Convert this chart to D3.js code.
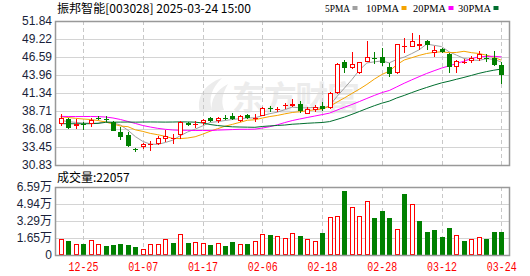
<!DOCTYPE html>
<html><head><meta charset="utf-8">
<script src="https://cdn.jsdelivr.net/npm/d3@7/dist/d3.min.js"></script>
<style>body{margin:0;background:#fff;} svg{display:block;}</style>
</head><body><svg id="c" width="530" height="276"></svg>
<script>
const dates = ["12-20","12-23","12-24","12-25","12-26","12-27","12-30","12-31","01-02","01-03",
"01-06","01-07","01-08","01-09","01-10","01-13","01-14","01-15","01-16","01-17",
"01-20","01-21","01-22","01-23","01-24","01-27","02-05","02-06","02-07","02-10",
"02-11","02-12","02-13","02-14","02-17","02-18","02-19","02-20","02-21","02-24",
"02-25","02-26","02-27","02-28","03-03","03-04","03-05","03-06","03-07","03-10",
"03-11","03-12","03-13","03-14","03-17","03-18","03-19","03-20","03-21","03-24"];
const open = [36.77,37.54,36.52,36.77,36.86,37.76,37.58,37.15,35.65,35.21,33.12,33.41,33.80,33.89,34.58,34.63,35.21,36.96,36.62,36.91,
37.69,37.20,37.64,37.98,37.25,38.13,37.66,38.05,39.10,38.93,39.44,39.51,39.73,38.34,38.85,39.44,39.15,41.38,45.90,45.03,
44.25,45.90,46.51,46.59,45.13,44.21,48.12,48.09,48.19,48.85,47.17,47.75,47.02,45.06,45.86,45.96,46.25,46.51,46.47,45.42];
const high = [38.23,37.69,37.50,37.15,37.73,38.02,38.02,37.25,36.33,35.60,33.35,34.08,34.33,35.06,35.94,35.31,37.25,37.15,37.25,37.59,
37.88,37.79,38.13,38.46,38.13,38.23,38.23,39.29,39.44,39.36,39.83,40.46,40.24,39.29,39.58,40.02,41.52,45.67,46.15,47.36,
45.90,48.99,47.32,47.86,45.71,48.48,49.32,50.16,49.80,49.07,48.26,47.86,47.24,46.22,46.25,46.73,47.42,47.05,47.49,45.79];
const low = [36.59,36.01,36.04,35.94,36.42,37.40,37.15,35.72,34.48,33.50,32.68,33.16,32.92,33.75,34.23,33.89,34.67,36.52,36.18,36.67,
37.15,36.91,37.40,37.40,37.15,37.59,37.15,37.98,38.61,38.63,39.07,39.31,38.37,38.20,38.61,38.64,38.96,41.19,44.32,44.84,
44.10,45.90,45.54,45.27,43.74,44.10,47.17,48.09,47.61,47.54,46.66,47.17,44.32,44.32,45.57,45.64,46.00,45.79,45.27,42.65];
const close = [37.64,36.18,36.81,36.62,37.40,37.69,37.40,35.83,34.96,33.65,33.02,33.87,33.92,34.73,35.02,34.73,37.10,36.67,36.77,37.40,
37.25,37.64,37.54,37.50,38.02,37.73,37.76,39.15,38.96,39.07,39.54,39.66,38.64,38.96,39.34,38.96,41.38,45.57,45.03,45.57,
45.86,46.59,46.37,45.64,44.18,48.44,48.22,48.92,48.44,48.34,47.54,47.32,45.13,45.96,45.93,46.44,46.98,46.40,45.49,43.96];
const volume = [15500,13600,10500,10500,14500,10400,8700,9700,10400,9700,7800,5500,11000,10400,15200,11600,20000,11600,12300,11600,
9700,11300,8700,12600,10400,10700,13300,20300,19400,18400,16200,21000,18400,15200,13600,21300,36500,37500,62000,46200,
37500,52000,35800,42600,35800,24900,59100,49400,32900,22300,24200,17000,26200,19100,13600,15200,17300,15500,22300,22057];
const ma5 = [37.35,37.15,37.05,36.95,36.93,36.94,37.18,36.99,36.66,35.91,34.97,34.27,33.88,33.84,34.11,34.45,35.10,35.65,36.06,36.53,
37.04,37.15,37.32,37.47,37.59,37.69,37.71,38.03,38.32,38.53,38.90,39.28,39.17,39.17,39.23,39.11,39.46,40.84,42.06,43.30,
44.68,45.72,45.88,46.01,45.73,46.24,46.57,47.08,47.64,48.47,48.29,48.11,47.35,46.86,46.38,46.16,46.09,46.34,46.25,45.85];
const ma10 = [37.87,37.76,37.64,37.54,37.47,37.32,37.10,36.81,36.52,36.42,35.96,35.73,35.44,35.25,35.01,34.71,34.68,34.77,34.95,35.32,
35.75,36.12,36.49,36.76,37.06,37.36,37.43,37.68,37.90,38.06,38.29,38.49,38.60,38.75,38.88,39.00,39.37,40.01,40.62,41.27,
41.90,42.59,43.36,44.03,44.52,45.46,46.15,46.48,46.82,47.10,47.27,47.34,47.22,47.25,47.42,47.22,47.10,46.85,46.55,46.12];
const ma20 = [37.92,37.91,37.90,37.90,37.91,37.89,37.83,37.69,37.47,37.18,36.89,36.59,36.37,36.18,36.04,35.94,35.89,35.89,35.86,35.87,
35.85,35.92,35.96,36.00,36.04,36.04,36.06,36.22,36.42,36.69,37.02,37.31,37.54,37.76,37.97,38.18,38.40,38.84,39.26,39.66,
40.09,40.54,40.98,41.39,41.70,42.23,42.76,43.25,43.72,44.18,44.58,44.97,45.29,45.64,45.97,46.34,46.62,46.67,46.69,46.61];
const ma30 = [36.86,36.85,36.85,36.84,36.86,36.90,37.05,37.08,37.09,37.10,37.08,37.10,37.11,37.10,37.09,37.10,37.12,37.11,37.08,36.96,
36.74,36.59,36.48,36.40,36.37,36.35,36.33,36.45,36.53,36.60,36.66,36.78,36.84,36.92,36.98,37.03,37.16,37.48,37.82,38.22,
38.64,39.07,39.48,39.85,40.15,40.61,40.98,41.39,41.78,42.14,42.49,42.81,43.06,43.34,43.61,43.90,44.20,44.45,44.66,44.83];
const priceTicks = ["51.84","49.22","46.59","43.96","41.34","38.71","36.08","33.45","30.83"];
const volTicks = ["6.59万","4.94万","3.29万","1.65万","0"];
const volTickValues = [65900,49400,32900,16500,0];
const dateTicks = ["12-25","01-07","01-17","02-06","02-18","02-28","03-12","03-24"];
const maNames = ["5PMA","10PMA","20PMA","30PMA"];
const title = "振邦智能[003028] 2025-03-24 15:00";
const volLabel = "成交量:22057";

const RED="#ff0000", GREEN="#008000", GRID="#d4d4d4", BORDER="#999999";
const maColors = ["#a0a0a0","#f5a300","#ff00ff","#006e2e"];
const L=55, R=509, T=21, B=165, VT=187, VB=255;
const svg = d3.select("#c");
const x = d3.scalePoint().domain(dates).range([60.7, 501.3]);
const y = d3.scaleLinear().domain([+priceTicks[8], +priceTicks[0]]).range([B, T]);
const yv = d3.scaleLinear().domain([0, volTickValues[0]]).range([VB, VT]);
const px = d => Math.round(x(d));

// watermark
const wm = svg.append("g").attr("fill","#ececec");
wm.append("path").attr("d","M200,112 C196,98 204,84 222,78 C212,88 208,98 212,110 Z");
wm.append("path").attr("d","M212,112 C210,100 216,90 228,84 C222,94 221,102 224,110 Z");
wm.append("text").attr("x",232).attr("y",110).attr("font-family","Noto Sans CJK SC")
  .attr("font-size",33).attr("font-weight","bold").attr("textLength",128).text("东方财富");

// main grid
const g = svg.append("g");
g.selectAll(".hg").data(priceTicks.slice(1,-1)).join("line")
  .attr("x1",L).attr("x2",R).attr("y1",d=>Math.round(y(+d))+0.5).attr("y2",d=>Math.round(y(+d))+0.5)
  .attr("stroke",GRID);
g.selectAll(".hv").data(volTickValues.slice(1,-1)).join("line")
  .attr("x1",L).attr("x2",R).attr("y1",d=>Math.round(yv(d))+0.5).attr("y2",d=>Math.round(yv(d))+0.5)
  .attr("stroke",GRID);
[[T,B],[VT,VB]].forEach(([a,b])=>{
  g.append("g").selectAll("line").data(dateTicks).join("line")
   .attr("x1",d=>px(d)+0.5).attr("x2",d=>px(d)+0.5).attr("y1",a).attr("y2",b)
   .attr("stroke","#c8c8c8").attr("stroke-dasharray","4,3");
});

// MA lines
[ma5,ma10,ma20,ma30].forEach((arr,k)=>{
  const line = d3.line().x((d,i)=>x(dates[i])).y(d=>y(d));
  svg.append("path").attr("d",line(arr)).attr("fill","none")
    .attr("stroke",maColors[k]).attr("stroke-width",1);
});

// candles
const cg = svg.append("g");
dates.forEach((d,i)=>{
  const cx = px(d), up = close[i] >= open[i];
  const col = up ? RED : GREEN;
  const yt = Math.round(y(Math.max(open[i],close[i]))), yb = Math.round(y(Math.min(open[i],close[i])));
  const yh = Math.round(y(high[i])), yl = Math.round(y(low[i]));
  if (up) {
    if (yh < yt) cg.append("line").attr("x1",cx+0.5).attr("x2",cx+0.5).attr("y1",yh).attr("y2",yt).attr("stroke",col);
    if (yl > yb) cg.append("line").attr("x1",cx+0.5).attr("x2",cx+0.5).attr("y1",yb).attr("y2",yl).attr("stroke",col);
    if (yb - yt < 2) {
      cg.append("line").attr("x1",cx-2).attr("x2",cx+3).attr("y1",yt+0.5).attr("y2",yt+0.5).attr("stroke",col);
    } else {
      cg.append("rect").attr("x",cx-1.5).attr("y",yt+0.5).attr("width",4).attr("height",yb-yt-1)
        .attr("fill","#fff").attr("stroke",col);
    }
  } else {
    cg.append("line").attr("x1",cx+0.5).attr("x2",cx+0.5).attr("y1",yh).attr("y2",yl).attr("stroke",col);
    cg.append("rect").attr("x",cx-2).attr("y",yt).attr("width",5).attr("height",Math.max(1,yb-yt)).attr("fill",col);
  }
});

// volume bars (colour by close vs previous close)
const vg = svg.append("g");
dates.forEach((d,i)=>{
  const cx = px(d);
  const up = i === 0 ? close[i] >= open[i] : close[i] >= close[i-1];
  const top = Math.round(yv(volume[i]));
  if (up) {
    vg.append("rect").attr("x",cx-1.5).attr("y",top+0.5).attr("width",4).attr("height",VB-top-1)
      .attr("fill","#fff").attr("stroke",RED);
  } else {
    vg.append("rect").attr("x",cx-2).attr("y",top).attr("width",5).attr("height",VB-top).attr("fill",GREEN);
  }
});

// borders
svg.append("rect").attr("x",L+0.5).attr("y",T+0.5).attr("width",R-L).attr("height",B-T)
  .attr("fill","none").attr("stroke",BORDER).attr("stroke-width",1.5);
svg.append("rect").attr("x",L+0.5).attr("y",VT+0.5).attr("width",R-L).attr("height",VB-VT)
  .attr("fill","none").attr("stroke",BORDER).attr("stroke-width",1.5);

// axes
const fontNum = "Liberation Sans, Arial, sans-serif";
const ay = svg.append("g").attr("transform",`translate(${L-3},0)`)
  .call(d3.axisLeft(y).tickValues(priceTicks.map(Number)).tickFormat((d,i)=>priceTicks[i]).tickSize(0));
ay.select(".domain").remove();
ay.selectAll("text").attr("font-family",fontNum).attr("font-size",12).attr("fill","#1a1f3a").attr("x",0);
const av = svg.append("g").attr("transform",`translate(${L-3},0)`)
  .call(d3.axisLeft(yv).tickValues(volTickValues).tickFormat((d,i)=>volTicks[i]).tickSize(0));
av.select(".domain").remove();
av.selectAll("text").attr("font-family","Liberation Sans, Noto Sans CJK SC, sans-serif").attr("font-size",12).attr("fill","#1a1f3a").attr("x",0);
const ax = svg.append("g").attr("transform",`translate(0,${VB+4})`)
  .call(d3.axisBottom(x).tickValues(dateTicks).tickSize(0));
ax.select(".domain").remove();
ax.selectAll("text").attr("font-family","Liberation Mono, monospace").attr("font-size",12)
  .attr("fill",RED).attr("textLength",30).attr("lengthAdjust","spacingAndGlyphs");

// title & legend
svg.append("text").attr("x",57).attr("y",13).attr("font-family","Noto Sans CJK SC, sans-serif")
  .attr("font-size",12).attr("fill","#000").attr("textLength",194).attr("lengthAdjust","spacingAndGlyphs").text(title);
const legX = [325,366,413,458], legW=[25,33,33,33];
maNames.forEach((n,k)=>{
  svg.append("text").attr("x",legX[k]).attr("y",12).attr("font-family","Liberation Serif, serif")
    .attr("font-size",11).attr("fill","#000").attr("textLength",legW[k]).attr("lengthAdjust","spacingAndGlyphs").text(n);
  svg.append("rect").attr("x",legX[k]+legW[k]+2.5).attr("y",6).attr("width",5).attr("height",4).attr("fill",maColors[k]);
});
svg.append("text").attr("x",57).attr("y",182).attr("font-family","Noto Sans CJK SC, sans-serif")
  .attr("font-size",12).attr("fill","#000").text(volLabel);
</script></body></html>
